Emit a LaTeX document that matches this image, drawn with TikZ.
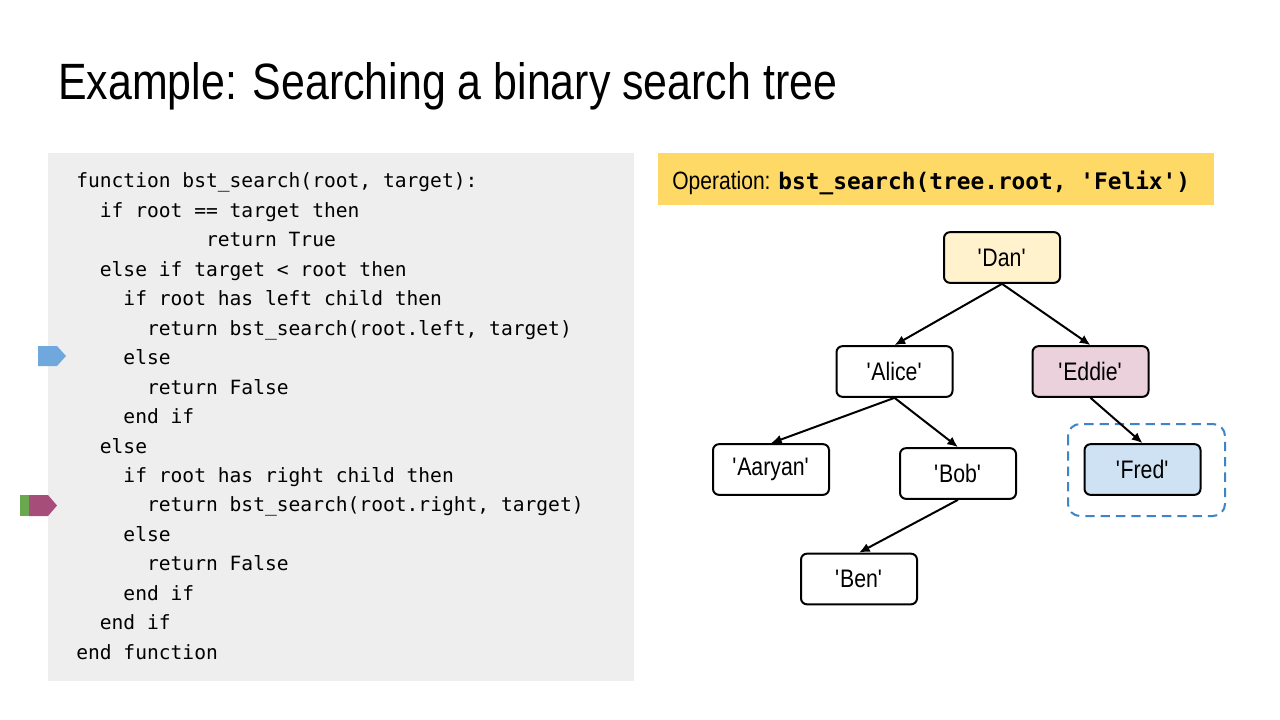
\documentclass[tikz,border=0pt]{standalone}
\usepackage{fontspec}
\setmainfont{Liberation Sans}[FakeStretch=0.84]
\setmonofont{DejaVu Sans Mono}
\usepackage{tikz}
\usetikzlibrary{arrows.meta, positioning}
\definecolor{codebg}{HTML}{EEEEEE}
\definecolor{opgold}{HTML}{FFD966}
\definecolor{rootfill}{HTML}{FFF2CC}
\definecolor{visitfill}{HTML}{EAD1DC}
\definecolor{foundfill}{HTML}{CFE2F3}
\definecolor{foundline}{HTML}{3D85C6}
\definecolor{markblue}{HTML}{6FA8DC}
\definecolor{markgreen}{HTML}{6AA84F}
\definecolor{markpurple}{HTML}{A64D79}
\newcommand{\sq}{\textquotesingle}
\tikzset{
  treenode/.style={rectangle, rounded corners=4.5pt, draw=black, line width=1.5pt, fill=white,
                   minimum width=87pt, minimum height=38pt, inner sep=0pt,
                   font=\fontsize{19}{22}\selectfont},
  rootnode/.style={fill=rootfill},
  visitnode/.style={fill=visitfill},
  foundnode/.style={fill=foundfill},
  edge/.style={-{Latex[length=8pt, width=7pt]}, line width=1.5pt},
  codeline/.style={anchor=base west, inner sep=0pt,
                   font=\ttfamily\fontsize{14.7}{22}\selectfont},
  founbox/.style={draw=foundline, line width=1.5pt, dash pattern=on 7pt off 4.5pt, rounded corners=9pt}
}

\begin{document}
\begin{tikzpicture}[x=0.75pt, y=-0.75pt]
  \useasboundingbox[fill=white] (0,0) rectangle (1280,720);

  % title
  \node[anchor=base west, inner sep=0pt, font=\fontsize{38.3}{44}\selectfont] (title) at (58,100)
    {Example: Searching a binary search tree};

  % pseudocode
  \fill[codebg] (48,153) rectangle (634,681);
  \foreach \ind/\txt [count=\i from 0] in {
      0/{function bst\_search(root, target):},
      2/{if root == target then},
      11/{return True},
      2/{else if target < root then},
      4/{if root has left child then},
      6/{return bst\_search(root.left, target)},
      4/{else},
      6/{return False},
      4/{end if},
      2/{else},
      4/{if root has right child then},
      6/{return bst\_search(root.right, target)},
      4/{else},
      6/{return False},
      4/{end if},
      2/{end if},
      0/{end function}}
    \node[codeline] (code\i) at ({76+11.8*\ind}, {188+29.45*\i}) {\txt};

  % line markers
  \fill[markblue] (38,346) -- (57,346) -- (66,356) -- (57,366) -- (38,366) -- cycle;
  \fill[markgreen] (20,495) rectangle (29,516);
  \fill[markpurple] (29,495) -- (48,495) -- (57,505.5) -- (48,516) -- (29,516) -- cycle;

  % operation banner
  \node[rectangle, fill=opgold, minimum width=417pt, minimum height=39pt, inner sep=0pt,
        anchor=north west] (op) at (658,153) {};
  \node[anchor=base west, inner sep=0pt, font=\fontsize{18.8}{22}\selectfont] (optext) at (672,190)
    {Operation: {\ttfamily\bfseries\fontsize{17.1}{22}\selectfont bst\_search(tree.root, 'Felix')}};

  % tree
  \node[treenode, rootnode] (dan) at (1002,257.5) {\sq Dan\sq};
  \node[treenode] (alice) at (894.5,371.5) {\sq Alice\sq};
  \node[treenode, visitnode] (eddie) at (1090.5,371.5) {\sq Eddie\sq};
  \node[treenode] (aaryan) at (771,469.5) {\sq Aaryan\sq};
  \node[treenode] (bob) at (958,473.5) {\sq Bob\sq};
  \node[treenode, foundnode] (fred) at (1142.5,469.5) {\sq Fred\sq};
  \node[treenode] (ben) at (859,579) {\sq Ben\sq};
  \draw[founbox] (1068,424) rectangle (1225,516);

  \draw[edge] (dan.south) -- (alice.north);
  \draw[edge] (dan.south) -- (eddie.north);
  \draw[edge] (alice.south) -- (aaryan.north);
  \draw[edge] (alice.south) -- (bob.north);
  \draw[edge] (bob.south) -- (ben.north);
  \draw[edge] (eddie.south) -- (fred.north);
\end{tikzpicture}
\end{document}
